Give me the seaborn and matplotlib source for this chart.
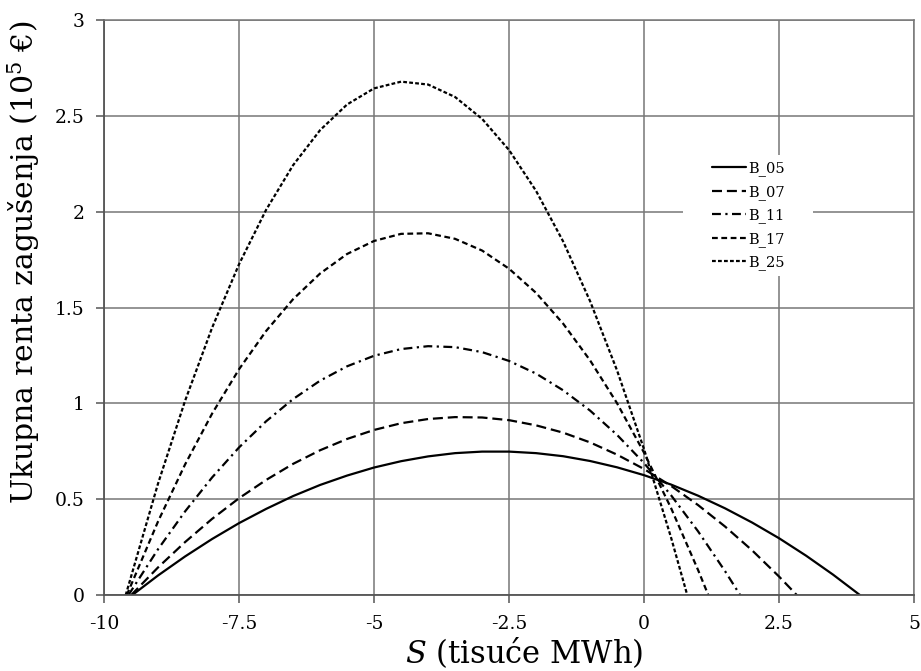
import numpy as np
import pandas as pd
import seaborn as sns
import matplotlib.pyplot as plt
from matplotlib.ticker import FuncFormatter
from matplotlib.patches import Rectangle

# values (S in thousand MWh, rent in 10^5 EUR)
x_b05 = [-9.48] + list(np.arange(-9.0, 3.51, 0.5)) + [4.0]
y_b05 = [0, 0.103, 0.202, 0.293, 0.376, 0.450, 0.517, 0.575, 0.624, 0.666,
         0.699, 0.724, 0.741, 0.749, 0.749, 0.741, 0.725, 0.700, 0.667, 0.626,
         0.577, 0.519, 0.453, 0.379, 0.297, 0.206, 0.107, 0]

x_b07 = [-9.5] + list(np.arange(-9.0, 2.51, 0.5)) + [2.83]
y_b07 = [0, 0.145, 0.277, 0.398, 0.506, 0.601, 0.685, 0.756, 0.815, 0.862,
         0.897, 0.919, 0.929, 0.927, 0.913, 0.886, 0.848, 0.797, 0.733, 0.658,
         0.570, 0.470, 0.358, 0.234, 0.097, 0]

x_b11 = [-9.55] + list(np.arange(-9.0, 1.51, 0.5)) + [1.78]
y_b11 = [0, 0.240, 0.437, 0.614, 0.771, 0.907, 1.023, 1.119, 1.194, 1.249,
         1.284, 1.299, 1.294, 1.268, 1.222, 1.156, 1.069, 0.963, 0.836, 0.689,
         0.521, 0.333, 0.125, 0]

x_b17 = [-9.58] + list(np.arange(-9.0, 1.01, 0.5)) + [1.19]
y_b17 = [0, 0.385, 0.682, 0.947, 1.179, 1.378, 1.544, 1.678, 1.780, 1.848,
         1.885, 1.888, 1.859, 1.798, 1.703, 1.577, 1.417, 1.225, 1.001, 0.743,
         0.454, 0.131, 0]

x_b25 = [-9.6] + list(np.arange(-9.0, 0.51, 0.5)) + [0.8]
y_b25 = [0, 0.583, 1.014, 1.395, 1.727, 2.010, 2.243, 2.426, 2.560, 2.644,
         2.679, 2.664, 2.599, 2.485, 2.322, 2.109, 1.846, 1.534, 1.172, 0.761,
         0.300, 0]

names = ['B_05', 'B_07', 'B_11', 'B_17', 'B_25']
xs = [x_b05, x_b07, x_b11, x_b17, x_b25]
ys = [y_b05, y_b07, y_b11, y_b17, y_b25]

df = pd.concat([pd.DataFrame({'S': x, 'R': y, 'serija': n})
                for x, y, n in zip(xs, ys, names)], ignore_index=True)

sns.set_style("ticks")
plt.rcParams['font.family'] = ['DejaVu Serif']
plt.rcParams['mathtext.fontset'] = 'dejavuserif'
plt.rcParams['axes.unicode_minus'] = False
plt.rcParams['text.color'] = 'black'
plt.rcParams['axes.labelcolor'] = 'black'

fig = plt.figure(figsize=(9.21, 6.71), dpi=100)
ax = fig.add_axes([0.113, 0.113, 0.8795, 0.857])

dashes = {'B_05': '', 'B_07': (4.5, 2.2), 'B_11': (4, 2, 1, 2),
          'B_17': (2.6, 1.6), 'B_25': (1.7, 1.0)}
sns.lineplot(data=df, x='S', y='R', hue='serija', style='serija',
             palette=['black'] * 5, dashes=dashes, sort=False,
             linewidth=1.6, ax=ax)

ax.set_xlim(-10, 5)
ax.set_ylim(0, 3)
ax.set_xticks([-10, -7.5, -5, -2.5, 0, 2.5, 5])
ax.set_yticks([0, 0.5, 1, 1.5, 2, 2.5, 3])
fmt = FuncFormatter(lambda v, p: '{:g}'.format(v))
ax.xaxis.set_major_formatter(fmt)
ax.yaxis.set_major_formatter(fmt)
ax.grid(True, color='#777777', linewidth=1.1)
ax.set_axisbelow(True)
for s in ['left', 'bottom']:
    ax.spines[s].set_color('#555555')
    ax.spines[s].set_linewidth(1.3)
for s in ['top', 'right']:
    ax.spines[s].set_color('#777777')
    ax.spines[s].set_linewidth(1.1)
ax.tick_params(direction='out', length=6, width=1.1, color='#555555',
               labelcolor='black', labelsize=13.5, pad=8)

ax.set_xlabel('$S$ (tisuće MWh)', fontsize=22)
ax.xaxis.set_label_coords(0.5185, -0.07)
ax.set_ylabel('Ukupna renta zagušenja (10$^5$ €)', fontsize=21.5)
ax.yaxis.set_label_coords(-0.077, 0.578)

# white block behind the legend hides the grid there
ax.add_patch(Rectangle((0.715, 0.555), 0.16, 0.21, transform=ax.transAxes,
                       facecolor='white', edgecolor='none', zorder=1.5))

handles, labels = ax.get_legend_handles_labels()
ax.legend(handles, labels, loc='upper left', bbox_to_anchor=(0.7506, 0.755),
          frameon=False, fontsize=10.5, handlelength=2.3, handletextpad=0.2,
          labelspacing=0.6, borderpad=0, borderaxespad=0)

plt.savefig('out.png', dpi=100)
plt.close()
